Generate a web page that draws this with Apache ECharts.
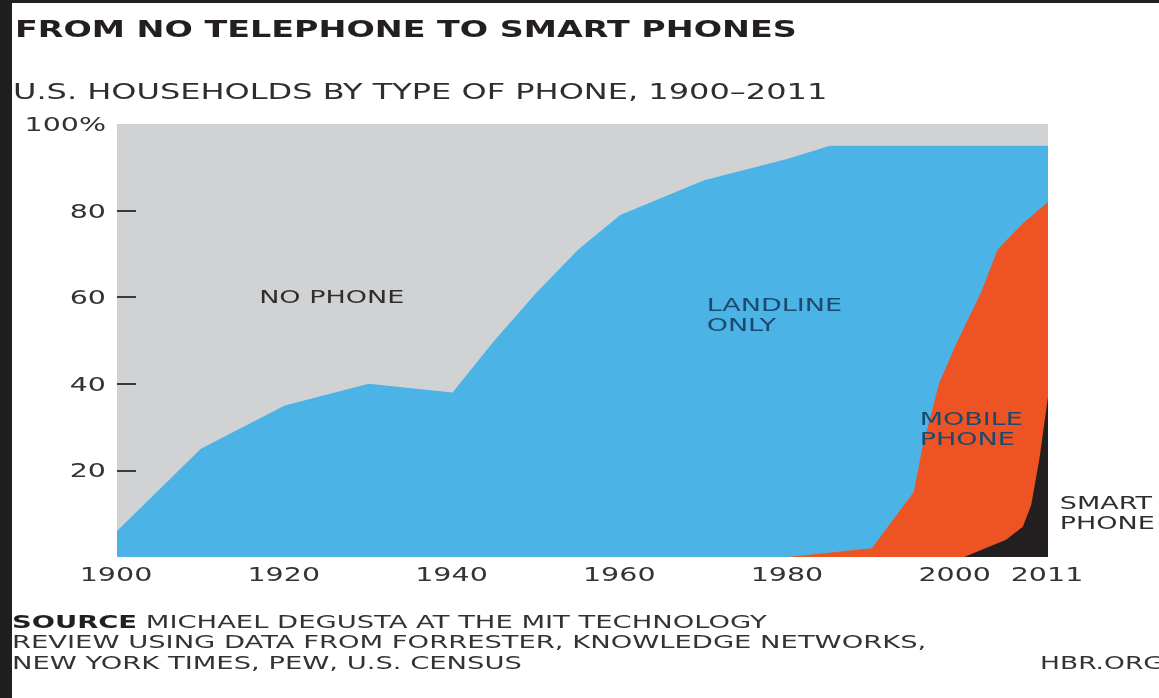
<!DOCTYPE html>
<html>
<head>
<meta charset="utf-8">
<style>
  html, body { margin: 0; padding: 0; background: #ffffff; }
  #chart { width: 1159px; height: 698px; }
</style>
<script src="https://cdn.jsdelivr.net/npm/echarts@6/dist/echarts.min.js"></script>
</head>
<body>
<div id="chart"></div>
<script>
// Share of U.S. households (%) with any telephone, 1900–2011
const phoneYears  = [1900, 1910, 1920, 1930, 1940, 1945, 1950, 1955, 1960, 1970, 1980, 1985, 1990, 2000, 2011];
const phoneShare  = [6,    25,   35,   40,   38,   50,   61,   71,   79,   87,   92,   95,   95,   95,   95];

// Share with a mobile phone (smartphones included)
const mobileYears = [1980, 1990, 1995, 1996, 1998, 2000, 2003, 2005, 2008, 2011];
const mobileShare = [0,    2,    15,   25,   40,   49,   61,   71,   77,   82];

// Share with a smartphone
const smartYears  = [2001, 2006, 2008, 2009, 2010, 2011];
const smartShare  = [0,    4,    7,    12,   23,   37];

// Axis ticks and labels
const yTickValues = [20, 40, 60, 80];
const yLabelValues = [20, 40, 60, 80, 100];
const yLabelTexts  = ['20', '40', '60', '80', '100%'];
const xTickValues  = [1920, 1940, 1960, 1980, 2000];
const xLabelValues = [1900, 1920, 1940, 1960, 1980, 2000, 2011];
const xLabelTexts  = ['1900', '1920', '1940', '1960', '1980', '2000', '2011'];

const FONT = "'DejaVu Sans', sans-serif";
const STRETCH = 1.5;   // wide geometric lettering

const pairs = (xs, ys) => xs.map((x, i) => [x, ys[i]]);

// In-plot area names, anchored in data space (year, percent)
const areaLabels = [
  { text: 'NO PHONE',        at: [1925.6, 59.7], align: 'center', color: '#2e2e2e' },
  { text: 'LANDLINE\nONLY',  at: [1970.3, 55.6], align: 'left',   color: '#1c4a6e' },
  { text: 'MOBILE\nPHONE',   at: [1995.7, 29.2], align: 'left',   color: '#1c4a6e' },
  { text: 'SMART\nPHONE',    at: [2012.4, 9.8],  align: 'left',   color: '#2e2e2e' }
];

function textSeries(name, values, texts, opts) {
  return {
    type: 'custom',
    name: name,
    silent: true,
    clip: false,
    z: 10,
    data: values.map(v => opts.point(v)),
    renderItem: function (params, api) {
      const p = api.coord([api.value(0), api.value(1)]);
      return {
        type: 'text',
        x: p[0] + (opts.dx || 0),
        y: p[1] + (opts.dy || 0),
        scaleX: STRETCH,
        style: {
          text: texts[params.dataIndex],
          fill: opts.color || '#333333',
          font: (opts.weight || 'normal') + ' ' + opts.size + 'px ' + FONT,
          align: opts.align,
          verticalAlign: 'middle',
          lineHeight: opts.lineHeight || opts.size
        }
      };
    }
  };
}

const chart = echarts.init(document.getElementById('chart'), null, { renderer: 'canvas' });

const option = {
  animation: false,
  backgroundColor: '#ffffff',
  grid: {
    left: 117, right: 111, top: 124, bottom: 141,
    show: true, backgroundColor: '#d1d2d4', borderWidth: 0
  },
  xAxis: {
    type: 'value', min: 1900, max: 2011,
    axisLine: { show: false },
    splitLine: { show: false },
    axisLabel: { show: false },
    axisTick: {
      show: true, inside: true, length: 11,
      customValues: xTickValues,
      lineStyle: { color: 'rgba(0,0,0,0.62)', width: 2 }
    }
  },
  yAxis: {
    type: 'value', min: 0, max: 100, interval: 20,
    axisLine: { show: false },
    splitLine: { show: false },
    axisLabel: { show: false },
    axisTick: {
      show: true, inside: true, length: 19,
      customValues: yTickValues,
      lineStyle: { color: '#3a3a3a', width: 2 }
    }
  },
  graphic: [
    // dark frame strips
    { type: 'rect', shape: { x: 0, y: 0, width: 12, height: 698 }, style: { fill: '#1f1f1f' }, z: 100 },
    { type: 'rect', shape: { x: 0, y: 0, width: 1159, height: 3 }, style: { fill: '#1f1f1f' }, z: 100 },
    {
      type: 'text', x: 15, y: 31, scaleX: 1.45,
      style: { text: 'FROM NO TELEPHONE TO SMART PHONES', fill: '#231f20',
               font: 'bold 23px ' + FONT, align: 'left', verticalAlign: 'middle' }
    },
    {
      type: 'text', x: 13, y: 93, scaleX: 1.455,
      style: { text: 'U.S. HOUSEHOLDS BY TYPE OF PHONE, 1900–2011', fill: '#2e2e2e',
               font: 'normal 22px ' + FONT, align: 'left', verticalAlign: 'middle' }
    },
    {
      type: 'text', x: 12, y: 644, scaleX: 1.61,
      style: {
        text: '{b|SOURCE} MICHAEL DEGUSTA AT THE MIT TECHNOLOGY\nREVIEW USING DATA FROM FORRESTER, KNOWLEDGE NETWORKS,\nNEW YORK TIMES, PEW, U.S. CENSUS',
        fill: '#333333', font: 'normal 17px ' + FONT, lineHeight: 20.5,
        align: 'left', verticalAlign: 'middle',
        rich: { b: { fontWeight: 'bold', fontSize: 17, fontFamily: FONT, fill: '#231f20', lineHeight: 20.5 } }
      }
    },
    {
      type: 'text', x: 1040, y: 665, scaleX: 1.56,
      style: { text: 'HBR.ORG', fill: '#333333', font: 'normal 17px ' + FONT,
               align: 'left', verticalAlign: 'middle' }
    }
  ],
  series: [
    {
      name: 'Landline only', type: 'line', data: pairs(phoneYears, phoneShare),
      showSymbol: false, silent: true, lineStyle: { width: 0 },
      areaStyle: { color: '#4bb3e5', opacity: 1 }, z: 2
    },
    {
      name: 'Mobile phone', type: 'line', data: pairs(mobileYears, mobileShare),
      showSymbol: false, silent: true, lineStyle: { width: 0 },
      areaStyle: { color: '#ee5324', opacity: 1 }, z: 3
    },
    {
      name: 'Smartphone', type: 'line', data: pairs(smartYears, smartShare),
      showSymbol: false, silent: true, lineStyle: { width: 0 },
      areaStyle: { color: '#231f20', opacity: 1 }, z: 4
    },
    textSeries('y labels', yLabelValues, yLabelTexts, {
      point: v => [1900, v], dx: -11, dy: 2, size: 19, align: 'right', color: '#333333'
    }),
    textSeries('x labels', xLabelValues, xLabelTexts, {
      point: v => [v, 0], dx: -1, dy: 19, size: 19, align: 'center', color: '#333333'
    }),
    {
      type: 'custom', name: 'area names', silent: true, clip: false, z: 10,
      data: areaLabels.map(l => l.at),
      renderItem: function (params, api) {
        const l = areaLabels[params.dataIndex];
        const p = api.coord([api.value(0), api.value(1)]);
        return {
          type: 'text', x: p[0], y: p[1], scaleX: STRETCH,
          style: {
            text: l.text, fill: l.color, font: 'normal 18px ' + FONT,
            align: l.align, verticalAlign: 'middle', lineHeight: 20
          }
        };
      }
    }
  ]
};

chart.setOption(option);
</script>
</body>
</html>
